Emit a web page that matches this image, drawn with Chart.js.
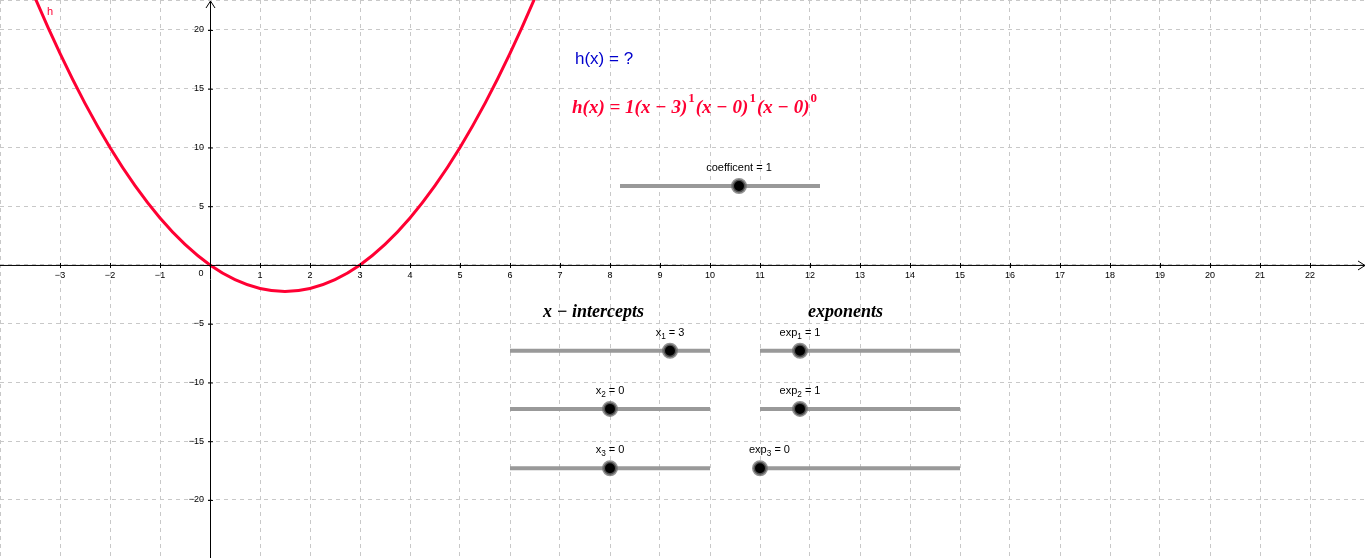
<!DOCTYPE html>
<html>
<head>
<meta charset="utf-8">
<script src="https://cdn.jsdelivr.net/npm/chart.js@4/dist/chart.umd.min.js"></script>
<style>body{margin:0;background:#fff}canvas{display:block}</style>
</head>
<body>
<canvas id="c" width="1366" height="558"></canvas>
<script>
// h(x)
const curveX = [-4.5, -4, -3.5, -3, -2.5, -2, -1.5, -1, -0.5, 0, 0.5, 1, 1.5, 2, 2.5, 3, 3.5, 4, 4.5, 5, 5.5, 6, 6.5, 7];
const curveY = [33.75, 28, 22.75, 18, 13.75, 10, 6.75, 4, 1.75, 0, -1.25, -2, -2.25, -2, -1.25, 0, 1.75, 4, 6.75, 10, 13.75, 18, 22.75, 28];

const xTicks = [-3, -2, -1, 1, 2, 3, 4, 5, 6, 7, 8, 9, 10, 11, 12, 13, 14, 15, 16, 17, 18, 19, 20, 21, 22];
const yTicks = [20, 15, 10, 5, -5, -10, -15, -20];

// sliders: [start, knob, end] on the same row
const coefSlider = { xs: [8.2, 10.58, 12.2], y: 6.72 };
const interceptSliders = [
  { xs: [6, 9.2, 10], y: -7.3 },
  { xs: [6, 8, 10], y: -12.25 },
  { xs: [6, 8, 10], y: -17.3 }
];
const exponentSliders = [
  { xs: [11, 11.8, 15], y: -7.3 },
  { xs: [11, 11.8, 15], y: -12.25 },
  { xs: [11, 11, 15], y: -17.3 }
];

function sliderSet(s) {
  const knobIdx = s.xs[1] === s.xs[0] ? 0 : 1;
  const pts = s.xs[1] === s.xs[0] ? [s.xs[0], s.xs[2]] : s.xs;
  return {
    data: pts.map(x => ({ x: x, y: s.y })),
    borderColor: '#999',
    borderWidth: 4,
    pointRadius: pts.map((_, i) => i === knobIdx ? 6.5 : 0),
    pointBackgroundColor: '#000',
    pointBorderColor: 'rgba(110,110,110,0.75)',
    pointBorderWidth: 3,
    tension: 0
  };
}

const datasets = [{
  data: curveX.map((x, i) => ({ x: x, y: curveY[i] })),
  borderColor: '#ff0033',
  borderWidth: 3,
  pointRadius: 0,
  tension: 0.4,
  cubicInterpolationMode: 'monotone'
}];
[coefSlider, ...interceptSliders, ...exponentSliders].forEach(s => datasets.push(sliderSet(s)));

function sub(ctx, parts, x, y, size, align) {
  let w = 0;
  parts.forEach(p => { ctx.font = (p[1] === 'n' ? size : size * 0.75) + 'px "Liberation Sans", Arial'; w += ctx.measureText(p[0]).width; });
  let cx = align === 'center' ? x - w / 2 : x;
  ctx.textAlign = 'left';
  parts.forEach(p => {
    ctx.font = (p[1] === 'n' ? size : size * 0.75) + 'px "Liberation Sans", Arial';
    const dy = p[1] === 'sub' ? size * 0.35 : p[1] === 'sup' ? -size * 0.45 : 0;
    ctx.fillText(p[0], cx, y + dy);
    cx += ctx.measureText(p[0]).width;
  });
}

const overlay = {
  id: 'overlay',
  afterDatasetsDraw(chart) {
    const { ctx, scales: { x, y } } = chart;
    const x0 = x.getPixelForValue(0), y0 = y.getPixelForValue(0);
    const W = chart.width, H = chart.height;
    ctx.save();
    ctx.strokeStyle = '#000'; ctx.lineWidth = 1;
    ctx.beginPath();
    ctx.moveTo(0, y0 + 0.5); ctx.lineTo(W - 1, y0 + 0.5);
    ctx.moveTo(W - 8, y0 - 4); ctx.lineTo(W - 1, y0 + 0.5); ctx.lineTo(W - 8, y0 + 5);
    ctx.moveTo(x0 + 0.5, H); ctx.lineTo(x0 + 0.5, 1);
    ctx.moveTo(x0 - 4, 8); ctx.lineTo(x0 + 0.5, 1); ctx.lineTo(x0 + 5, 8);
    ctx.stroke();
    ctx.fillStyle = '#000';
    ctx.font = '9px "Liberation Sans", Arial';
    ctx.textBaseline = 'middle';
    ctx.textAlign = 'center';
    xTicks.forEach(v => {
      const px = x.getPixelForValue(v);
      ctx.fillText(v < 0 ? '\u2212' + (-v) : String(v), px, y0 + 11);
      ctx.beginPath(); ctx.moveTo(px + 0.5, y0 - 2); ctx.lineTo(px + 0.5, y0 + 3); ctx.stroke();
    });
    ctx.fillText('0', x0 - 9, y0 + 9);
    ctx.textAlign = 'right';
    yTicks.forEach(v => {
      const py = y.getPixelForValue(v);
      ctx.fillText(v < 0 ? '\u2212' + (-v) : String(v), x0 - 6, py);
      ctx.beginPath(); ctx.moveTo(x0 - 2, py + 0.5); ctx.lineTo(x0 + 3, py + 0.5); ctx.stroke();
    });

    ctx.fillStyle = '#ff0033'; ctx.textAlign = 'left';
    ctx.font = '11px "Liberation Sans", Arial';
    ctx.fillText('h', 47, 12);

    ctx.fillStyle = '#0000cc';
    ctx.font = '17px "Liberation Sans", Arial';
    ctx.fillText('h(x) = ?', 575, 59);

    ctx.fillStyle = '#ff0033';
    let cx = 572;
    const fparts = [['h(x) = 1(x \u2212 3)', 'n'], ['1', 'sup'], ['(x \u2212 0)', 'n'], ['1', 'sup'], ['(x \u2212 0)', 'n'], ['0', 'sup']];
    fparts.forEach(p => {
      ctx.font = p[1] === 'n' ? 'italic bold 19px "Liberation Serif", serif' : 'bold 13px "Liberation Serif", serif';
      ctx.fillText(p[0], cx, p[1] === 'n' ? 108 : 99);
      cx += ctx.measureText(p[0]).width + 1;
    });

    ctx.fillStyle = '#000';
    ctx.font = 'italic bold 18px "Liberation Serif", serif';
    ctx.fillText('x \u2212 intercepts', 543, 312);
    ctx.fillText('exponents', 808, 312);

    const lab = (s, parts) => {
      const px = x.getPixelForValue(s.xs[1]), py = y.getPixelForValue(s.y) - 18;
      sub(ctx, parts, px, py, 11, 'center');
    };
    lab(coefSlider, [['coefficent = 1', 'n']]);
    lab(interceptSliders[0], [['x', 'n'], ['1', 'sub'], [' = 3', 'n']]);
    lab(interceptSliders[1], [['x', 'n'], ['2', 'sub'], [' = 0', 'n']]);
    lab(interceptSliders[2], [['x', 'n'], ['3', 'sub'], [' = 0', 'n']]);
    lab(exponentSliders[0], [['exp', 'n'], ['1', 'sub'], [' = 1', 'n']]);
    lab(exponentSliders[1], [['exp', 'n'], ['2', 'sub'], [' = 1', 'n']]);
    const e3 = exponentSliders[2];
    sub(ctx, [['exp', 'n'], ['3', 'sub'], [' = 0', 'n']], x.getPixelForValue(e3.xs[1]) - 11, y.getPixelForValue(e3.y) - 18, 11, 'left');
    ctx.restore();
  }
};

new Chart(document.getElementById('c'), {
  type: 'line',
  data: { datasets: datasets },
  options: {
    responsive: false,
    animation: false,
    devicePixelRatio: 1,
    layout: { padding: 0, autoPadding: false },
    plugins: { legend: { display: false }, tooltip: { enabled: false } },
    scales: {
      x: {
        type: 'linear', min: -4.2, max: 23.12,
        ticks: { display: false, stepSize: 1 },
        border: { display: false, dash: [4, 4] },
        grid: { color: '#c8c8c8', tickLength: 0, drawTicks: false },
        afterFit: s => { s.height = 0; s.paddingLeft = 0; s.paddingRight = 0; }
      },
      y: {
        type: 'linear', min: -24.94, max: 22.55,
        ticks: { display: false, stepSize: 5 },
        border: { display: false, dash: [4, 4] },
        grid: { color: '#c8c8c8', tickLength: 0, drawTicks: false },
        afterFit: s => { s.width = 0; s.paddingTop = 0; s.paddingBottom = 0; }
      }
    }
  },
  plugins: [overlay]
});
</script>
</body>
</html>
